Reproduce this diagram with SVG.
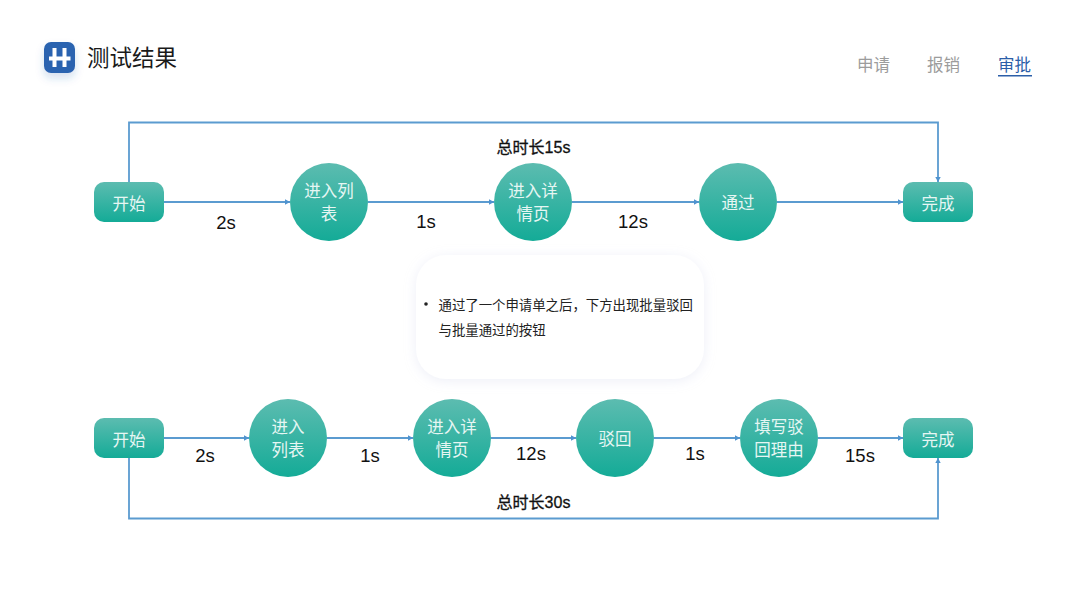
<svg xmlns="http://www.w3.org/2000/svg" width="1067" height="600" viewBox="0 0 1067 600">
<style>
text{font-family:"Liberation Sans","Noto Sans CJK SC",sans-serif;}
.cjk{font-family:"Noto Sans CJK SC","Liberation Sans",sans-serif;}
.n{font-size:16.500px;fill:#e6f6f3;text-anchor:middle;font-family:"Noto Sans CJK SC",sans-serif;}
.l{font-size:18.500px;fill:#111;text-anchor:middle;}
.t{font-size:16px;fill:#111;text-anchor:middle;stroke:#111;stroke-width:.3;}
.c{fill:none;stroke:#5b9bd0;stroke-width:1.800;}
.f{fill:url(#g);}
.b{font-size:13.400px;fill:#222;font-family:"Noto Sans CJK SC",sans-serif;}
</style>
<defs>
<linearGradient id="g" x1="0" y1="0" x2="0" y2="1"><stop offset="0" stop-color="#5cbcb0"/><stop offset="1" stop-color="#14ab97"/></linearGradient>
<marker id="a" markerWidth="6" markerHeight="6" refX="5" refY="3" orient="auto" markerUnits="userSpaceOnUse"><path d="M0,0.300L5,3L0,5.700Z" fill="#4f93cf"/></marker>
<filter id="s" x="-20%" y="-20%" width="140%" height="150%"><feDropShadow dx="0" dy="2" stdDeviation="6" flood-color="#c5cbe6" flood-opacity="0.300"/></filter>
<filter id="s2" x="-60%" y="-60%" width="220%" height="240%"><feDropShadow dx="0" dy="5" stdDeviation="4" flood-color="#2b62b0" flood-opacity="0.200"/></filter>
</defs>
<rect width="1067" height="600" fill="#fff"/>
<g id="header">
<g id="logo"><rect x="44" y="42" width="31" height="31" rx="7" fill="#2c64b0" filter="url(#s2)"/>
<path d="M54.500 48v19M64.500 48v19M49 58.500h21.500" stroke="#fff" stroke-width="4" fill="none"/></g>
<text x="87" y="66" class="cjk" font-size="22.500" fill="#1a1a1a">测试结果</text>
<text x="857" y="71" class="cjk" font-size="16.500" fill="#9c9c9c">申请</text>
<text x="927" y="71" class="cjk" font-size="16.500" fill="#9c9c9c">报销</text>
<text x="998" y="71" class="cjk" font-size="16.500" fill="#2c5ea8">审批</text>
<rect x="998" y="75" width="34" height="1.500" fill="#2c5ea8"/>
</g>
<g id="connectors">
<path class="c" marker-end="url(#a)" d="M129 182V122.500H938V182"/>
<path class="c" marker-end="url(#a)" d="M164 202H290"/>
<path class="c" marker-end="url(#a)" d="M368 202H494"/>
<path class="c" marker-end="url(#a)" d="M572 202H699"/>
<path class="c" marker-end="url(#a)" d="M777 202H903"/>
<path class="c" marker-end="url(#a)" d="M164 438H249"/>
<path class="c" marker-end="url(#a)" d="M327 438H413"/>
<path class="c" marker-end="url(#a)" d="M491 438H576"/>
<path class="c" marker-end="url(#a)" d="M654 438H740"/>
<path class="c" marker-end="url(#a)" d="M818 438H903"/>
<path class="c" marker-end="url(#a)" d="M129 458V518.500H938V458"/>
</g>
<g id="top-start"><rect class="f" x="94" y="182" width="70" height="40" rx="10"/><text class="n" x="129" y="209.500">开始</text></g>
<g id="top-list"><circle class="f" cx="329" cy="202" r="39"/><text class="n" x="329" y="196.500">进入列</text><text class="n" x="329" y="220">表</text></g>
<g id="top-detail"><circle class="f" cx="533" cy="202" r="39"/><text class="n" x="533" y="196.500">进入详</text><text class="n" x="533" y="220">情页</text></g>
<g id="top-pass"><circle class="f" cx="738" cy="202" r="39"/><text class="n" x="738" y="208.500">通过</text></g>
<g id="top-end"><rect class="f" x="903" y="182" width="70" height="40" rx="10"/><text class="n" x="938" y="209.500">完成</text></g>
<g id="note"><rect x="416" y="255" width="288" height="124" rx="30" fill="#fff" filter="url(#s)"/>
<circle cx="426" cy="304" r="1.800" fill="#222"/>
<text class="b" x="438.500" y="310">通过了一个申请单之后，下方出现批量驳回</text>
<text class="b" x="438.500" y="335">与批量通过的按钮</text></g>
<g id="bot-start"><rect class="f" x="94" y="418" width="70" height="40" rx="10"/><text class="n" x="129" y="445.500">开始</text></g>
<g id="bot-list"><circle class="f" cx="288" cy="438" r="39"/><text class="n" x="288" y="432.500">进入</text><text class="n" x="288" y="456">列表</text></g>
<g id="bot-detail"><circle class="f" cx="452" cy="438" r="39"/><text class="n" x="452" y="432.500">进入详</text><text class="n" x="452" y="456">情页</text></g>
<g id="bot-reject"><circle class="f" cx="615" cy="438" r="39"/><text class="n" x="615" y="444.500">驳回</text></g>
<g id="bot-reason"><circle class="f" cx="779" cy="438" r="39"/><text class="n" x="779" y="432.500">填写驳</text><text class="n" x="779" y="456">回理由</text></g>
<g id="bot-end"><rect class="f" x="903" y="418" width="70" height="40" rx="10"/><text class="n" x="938" y="445.500">完成</text></g>
<g id="labels">
<text class="l" x="226" y="228.500">2s</text><text class="l" x="426" y="227.500">1s</text><text class="l" x="633" y="227.500">12s</text>
<text class="l" x="205" y="461.500">2s</text><text class="l" x="370" y="462">1s</text><text class="l" x="531" y="460">12s</text><text class="l" x="695" y="460">1s</text><text class="l" x="860" y="461.500">15s</text>
<text class="t" x="533.500" y="153">总时长15s</text>
<text class="t" x="533.500" y="508">总时长30s</text>
</g>
</svg>
